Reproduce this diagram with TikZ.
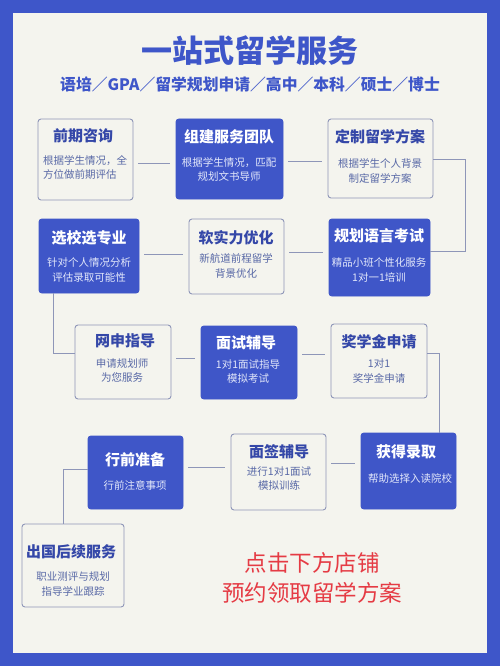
\documentclass[tikz,border=0pt]{standalone}
\usepackage{fontspec}
\setmainfont{Noto Sans CJK SC}
\usetikzlibrary{positioning}
\definecolor{frameblue}{HTML}{3E56C9}
\definecolor{cream}{HTML}{F4F4EE}
\definecolor{boxblue}{HTML}{3F56C8}
\definecolor{edgegray}{HTML}{8E96B8}
\definecolor{titleblue}{HTML}{3447A8}
\definecolor{descgray}{HTML}{5868A6}
\definecolor{desclight}{HTML}{E2E7FA}
\definecolor{promored}{HTML}{E53B44}
\tikzset{
  lightbox/.style={draw=edgegray, line width=0.9pt, fill=cream, rounded corners=3pt, inner sep=0pt},
  darkbox/.style={draw=boxblue, line width=0.9pt, fill=boxblue, rounded corners=3pt, inner sep=0pt},
  ltitle/.style={font=\fontsize{15}{18}\selectfont\bfseries, text=titleblue, inner sep=0pt},
  dtitle/.style={font=\fontsize{15}{18}\selectfont\bfseries, text=white, inner sep=0pt},
  ldesc/.style={font=\fontsize{10.5}{14.5}\selectfont, text=descgray, align=center, inner sep=0pt},
  ddesc/.style={font=\fontsize{10.5}{14.5}\selectfont, text=desclight, align=center, inner sep=0pt},
  conn/.style={draw=edgegray, line width=0.9pt},
  gapconn/.style={conn, shorten <=5pt, shorten >=6pt}
}
\begin{document}
\begin{tikzpicture}[x=1pt,y=-1pt]
\fill[frameblue] (0,0) rectangle (500,666);
\fill[cream] (13,13) rectangle (487,653);
\useasboundingbox (0,0) rectangle (500,666);

\node[font=\fontsize{31}{36}\selectfont\bfseries, text=frameblue] (title) at (250,51) {一站式留学服务};
\node[font=\fontsize{15.8}{18}\selectfont\bfseries, text=frameblue] (sub) at (250,84) {语培／GPA／留学规划申请／高中／本科／硕士／博士};

% row 1
\node[lightbox, minimum width=95pt, minimum height=81pt] (q1) at (85.5,159.5) {};
\node[darkbox, minimum width=107pt, minimum height=80pt] (q2) at (229.5,159) {};
\node[lightbox, minimum width=105pt, minimum height=79pt] (q3) at (380.5,158.5) {};
% row 2
\node[darkbox, minimum width=100pt, minimum height=74pt] (r1) at (89,256) {};
\node[lightbox, minimum width=95pt, minimum height=75pt] (r2) at (236.5,256.5) {};
\node[darkbox, minimum width=101pt, minimum height=77pt] (r3) at (379.5,257.5) {};
% row 3
\node[lightbox, minimum width=96pt, minimum height=74pt] (s1) at (123,362) {};
\node[darkbox, minimum width=96pt, minimum height=73pt] (s2) at (249,362.5) {};
\node[lightbox, minimum width=96pt, minimum height=74pt] (s3) at (379,361) {};
% row 4
\node[darkbox, minimum width=95pt, minimum height=73pt] (t1) at (135.5,472.5) {};
\node[lightbox, minimum width=95pt, minimum height=76pt] (t2) at (278.5,472) {};
\node[darkbox, minimum width=95pt, minimum height=76pt] (t3) at (408.5,471) {};
% row 5
\node[lightbox, minimum width=102pt, minimum height=83pt] (u1) at (73,565.5) {};

% texts
\node[ltitle] (q1t) at (83,136) {前期咨询};
\node[ldesc, align=left, anchor=west] (q1d) at (43,167.5) {根据学生情况，全\\方位做前期评估};
\node[dtitle] (q2t) at (229,137) {组建服务团队};
\node[ddesc] (q2d) at (229,169.5) {根据学生情况，匹配\\规划文书导师};
\node[ltitle] (q3t) at (380,137) {定制留学方案};
\node[ldesc] (q3d) at (380,171) {根据学生个人背景\\制定留学方案};

\node[dtitle] (r1t) at (89,238) {选校选专业};
\node[ddesc] (r1d) at (89,270) {针对个人情况分析\\评估录取可能性};
\node[ltitle] (r2t) at (236,238) {软实力优化};
\node[ldesc] (r2d) at (236,266) {新航道前程留学\\背景优化};
\node[dtitle] (r3t) at (379,236) {规划语言考试};
\node[ddesc] (r3d) at (379,270) {精品小班个性化服务\\1对一1培训};

\node[ltitle] (s1t) at (125,341) {网申指导};
\node[ldesc] (s1d) at (122,370.5) {申请规划师\\为您服务};
\node[dtitle] (s2t) at (246,343) {面试辅导};
\node[ddesc] (s2d) at (248,371.5) {1对1面试指导\\模拟考试};
\node[ltitle] (s3t) at (379,342) {奖学金申请};
\node[ldesc] (s3d) at (379,371) {1对1\\奖学金申请};

\node[dtitle] (t1t) at (135,460) {行前准备};
\node[ddesc] (t1d) at (135,485) {行前注意事项};
\node[ltitle] (t2t) at (279,452) {面签辅导};
\node[ldesc] (t2d) at (279,478.5) {进行1对1面试\\模拟训练};
\node[dtitle] (t3t) at (406,452) {获得录取};
\node[ddesc] (t3d) at (410,478) {帮助选择入读院校};

\node[ltitle] (u1t) at (71,552) {出国后续服务};
\node[ldesc] (u1d) at (73,584) {职业测评与规划\\指导学业跟踪};

\node[font=\fontsize{22.5}{30}\selectfont, text=promored] (p1) at (312,563) {点击下方店铺};
\node[font=\fontsize{22.5}{30}\selectfont, text=promored] (p2) at (312,593) {预约领取留学方案};

% connectors
\draw[gapconn] ([yshift=-3.5pt]q1.east) -- ([yshift=-4pt]q2.west);
\draw[gapconn] ([yshift=-2pt]q2.east) -- ([yshift=-2.5pt]q3.west);
\coordinate (qr1) at (465,159);
\coordinate (qr2) at (465,251);
\draw[conn] ([yshift=-0.5pt]q3.east) -- (qr1) -- (qr2) -- ([yshift=6.5pt]r3.east);
\draw[gapconn] ([yshift=2pt]r1.east) -- ([yshift=2.5pt]r2.west);
\draw[gapconn] ([yshift=4.5pt]r2.east) -- ([yshift=5.5pt]r3.west);
\coordinate (rs1) at (53,353);
\draw[conn] ([xshift=-36pt]r1.south) -- (rs1) -- ([yshift=9pt]s1.west);
\draw[gapconn] ([yshift=4pt]s1.east) -- ([yshift=4.5pt]s2.west);
\draw[gapconn] ([yshift=8.5pt]s2.east) -- ([yshift=7pt]s3.west);
\coordinate (st1) at (439,353);
\draw[conn] ([yshift=8pt]s3.east) -- (st1) -- ([xshift=30.5pt]t3.north);
\draw[gapconn] ([yshift=5.5pt]t1.east) -- ([yshift=5pt]t2.west);
\draw[gapconn] ([yshift=9pt]t2.east) -- ([yshift=8pt]t3.west);
\coordinate (tu1) at (63,469);
\draw[conn] ([yshift=3.5pt]t1.west) -- (tu1) -- ([xshift=-10pt]u1.north);
\end{tikzpicture}
\end{document}
